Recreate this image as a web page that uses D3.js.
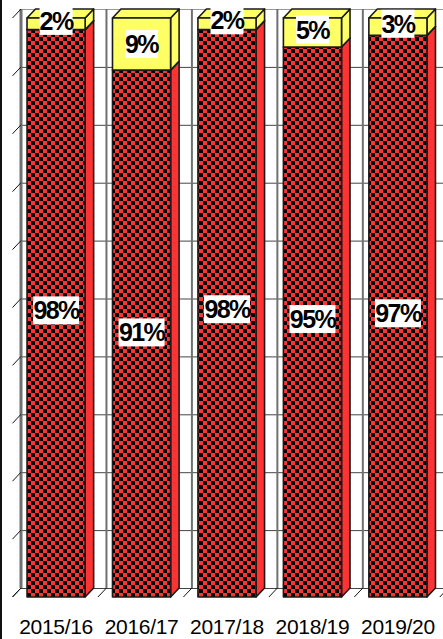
<!DOCTYPE html>
<html><head><meta charset="utf-8">
<style>html,body{margin:0;padding:0;background:#fff}svg{display:block}</style>
<script src="https://cdn.jsdelivr.net/npm/d3@7"></script></head>
<body><svg id="c" width="443" height="639"></svg>
<script>
const categories=["2015/16","2016/17","2017/18","2018/19","2019/20"];
const seriesA=[98,91,98,95,97];
const seriesB=[2,9,2,5,3];
const labelCenterA=[49.5,45.7,49.7,48,49];
const labelCenterB=[99.5,95.5,99.6,98,99];
const yTicks=d3.range(0,101,10);
const W=443,H=639,dx=8.5,dy=9;
const svg=d3.select("#c");
const x=d3.scaleBand().domain(categories).range([12.5,441.5]).paddingInner(0.32).paddingOuter(0.17);
const y=d3.scaleLinear().domain([0,100]).range([597,18]);
const defs=svg.append("defs");
const p=defs.append("pattern").attr("id","chk").attr("patternUnits","userSpaceOnUse").attr("width",8).attr("height",8).attr("x",27).attr("y",1);
p.append("rect").attr("width",8).attr("height",8).attr("fill","#ff3333");
p.append("rect").attr("width",4).attr("height",4).attr("fill","#000");
p.append("rect").attr("x",4).attr("y",4).attr("width",4).attr("height",4).attr("fill","#000");
svg.append("line").attr("x1",1).attr("x2",1).attr("y1",0).attr("y2",H).attr("stroke","#111").attr("stroke-width",2);
const step=x.step();
const gridX=d3.range(0,6).map(i=>12.5+i*step);
const g=svg.append("g");
g.selectAll(".h").data(yTicks).join("line").attr("x1",12.5+dx).attr("x2",W).attr("y1",d=>y(d)-dy+.5).attr("y2",d=>y(d)-dy+.5).attr("stroke",d=>d===100?"#999":"#444").attr("stroke-width",1);
g.selectAll(".v").data(gridX).join("line").attr("x1",d=>d+dx).attr("x2",d=>d+dx).attr("y1",y(100)-dy).attr("y2",y(0)-dy).attr("stroke","#707070").attr("stroke-width",(d,i)=>i?2:3);
g.selectAll(".t").data(yTicks).join("line").attr("x1",12.5).attr("x2",12.5+dx).attr("y1",d=>y(d)).attr("y2",d=>y(d)-dy).attr("stroke","#111");
g.selectAll(".f").data(gridX).join("line").attr("x1",d=>d).attr("x2",d=>d+dx).attr("y1",y(0)).attr("y2",y(0)-dy).attr("stroke","#111");
function box3d(sel,cat,v0,v1,front,side,top){
 const X=x(cat),w=x.bandwidth(),y0=y(v0),y1=y(v1);
 const s={stroke:"#1a1a1a","stroke-width":1.6,"stroke-linejoin":"round"};
 const add=(pts,fill)=>{const e=sel.append("path").attr("d",d3.line()(pts)+"Z").attr("fill",fill);Object.entries(s).forEach(([k,val])=>e.attr(k,val));};
 add([[X+w,y1],[X+w+dx,y1-dy],[X+w+dx,y0-dy],[X+w,y0]],side);
 add([[X,y1],[X+dx,y1-dy],[X+w+dx,y1-dy],[X+w,y1]],top);
 add([[X,y1],[X+w,y1],[X+w,y0],[X,y0]],front);
}
const bars=svg.append("g");
categories.forEach((c,i)=>{
 box3d(bars,c,0,seriesA[i],"url(#chk)","#ff3333","#ff3333");
 box3d(bars,c,seriesA[i],100,"#ffff66","#ffff66","#ffff66");
});
const lab=svg.append("g").attr("font-family","Liberation Sans").attr("font-weight","bold").attr("font-size",25).attr("letter-spacing",-1.6);
function label(cx,cy,t){
 const n=t.length, w=n===2?33:46, h=28;
 lab.append("rect").attr("x",cx-w/2).attr("y",cy-h/2).attr("width",w).attr("height",h).attr("fill","#fff");
 lab.append("text").attr("x",cx).attr("y",cy).attr("dy","0.36em").attr("text-anchor","middle").attr("fill","#000").text(t);
}
categories.forEach((c,i)=>{
 const cx=x(c)+x.bandwidth()/2;
 label(cx,y(labelCenterA[i]),seriesA[i]+"%");
 label(cx,y(labelCenterB[i]),seriesB[i]+"%");
});
const ax=svg.append("g").attr("transform","translate(0,619)").call(d3.axisBottom(x).tickSize(0).tickPadding(0));
ax.select(".domain").remove();
ax.selectAll("text").attr("font-family","Liberation Sans").attr("font-size",21).attr("fill","#000").attr("letter-spacing",-0.3);
</script></body></html>
